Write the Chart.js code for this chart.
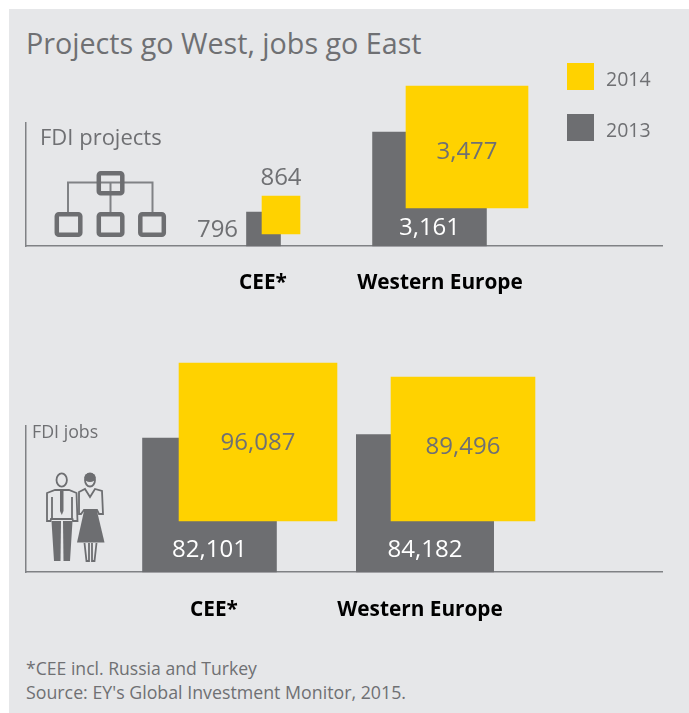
<!DOCTYPE html>
<html><head><meta charset="utf-8">
<script src="https://cdn.jsdelivr.net/npm/chart.js@4/dist/chart.umd.min.js"></script>
<style>
html,body{margin:0;padding:0;background:#fff;width:689px;height:713px;overflow:hidden}
#panel{position:absolute;left:9px;top:9px;width:680px;height:704px;background:#e6e7e9}
canvas{position:absolute;left:0}
.t{position:absolute;color:#6f7073;font-family:"Open Sans",sans-serif;white-space:nowrap}
</style></head><body>
<div id="panel"></div>
<div class="t" id="title" style="left:26px;top:23px;font-size:28.7px;line-height:40px">Projects go West, jobs go East</div>
<div class="t" style="left:26px;top:657px;font-size:17.6px;line-height:22px">*CEE incl. Russia and Turkey</div>
<div class="t" style="left:26px;top:681px;font-size:17.8px;line-height:22px">Source: EY's Global Investment Monitor, 2015.</div>
<div id="a" style="position:absolute;left:0;top:0;width:689px;height:320px"><canvas id="c1" width="689" height="320"></canvas></div>
<div id="b" style="position:absolute;left:0;top:320px;width:689px;height:393px"><canvas id="c2" width="689" height="393"></canvas></div>
<script>
// ---- data ----
const categories = ['CEE*', 'Western Europe'];
const seriesNames = ['2014', '2013'];
const projects2014 = [864, 3477];
const projects2013 = [796, 3161];
const jobs2014 = [96087, 89496];
const jobs2013 = [82101, 84182];

// ---- look ----
const YELLOW = '#ffd200', GREY = '#6d6e71', TEXT = '#6f7073', AXIS = '#808285';
const FONT = '"Open Sans", sans-serif';

// ---- layout, separate from the data (x in px from the vertical axis) ----
const topLayout = {
  top: 123, bottom: 246, canvasH: 320, offsetY: 0, tickPad: 24.5, labelX: [237, 414],
  x2013: [237.5, 403.5], x2014: [255, 441], lift: [12, 38],
  scale2013: {min: -210, unit: 29.6}, scale2014: {min: -317, unit: 31.1},
  place2013: [{dx: -46, dy: 1, color: TEXT}, {dx: 0, dy: 0, bottomOff: 17.5, color: '#fff'}],
  place2014: [{dx: 0, dy: -18, color: TEXT, from: 'top'}, {dx: 0, dy: 5.5, color: TEXT}],
  valueFont: 24
};
const bottomLayout = {
  top: 426 - 320, bottom: 572 - 320, canvasH: 393, offsetY: 320, tickPad: 25.5, labelX: [188, 394],
  x2013: [183.5, 399], x2014: [232, 437], lift: [51, 51],
  scale2013: {min: 0, unit: 613}, scale2014: {min: 21700, unit: 471},
  place2013: [{dx: 0, dy: 0, bottomOff: 21.5, color: '#fff'}, {dx: 0, dy: 0, bottomOff: 21.5, color: '#fff'}],
  place2014: [{dx: 0, dy: 1, color: TEXT}, {dx: 0, dy: -2, color: TEXT}],
  valueFont: 24
};

function fmt(v) { return v.toLocaleString('en-US'); }

function barDatasets(name, values, xs, s, lifts, places, color, axis) {
  return values.map((v, i) => {
    const side = (v - s.min) / s.unit;
    const liftUnits = lifts ? lifts[i] * s.unit : 0;
    return {
      label: name, value: v, place: places[i], yAxisID: axis, backgroundColor: color,
      grouped: false, clip: false, barThickness: side, borderWidth: 0,
      data: [{x: xs[i], y: [s.min + liftUnits, v + liftUnits]}]
    };
  });
}

const valueLabels = {
  id: 'valueLabels',
  afterDatasetsDraw(chart, args, opts) {
    const ctx = chart.ctx;
    ctx.save();
    ctx.textAlign = 'center'; ctx.textBaseline = 'middle';
    ctx.font = opts.size + 'px ' + FONT;
    chart.data.datasets.forEach((ds, i) => {
      const el = chart.getDatasetMeta(i).data[0];
      const p = ds.place;
      let y = (el.y + el.base) / 2 + p.dy;
      if (p.bottomOff !== undefined) y = el.base - p.bottomOff;
      if (p.from === 'top') y = el.y + p.dy;
      ctx.fillStyle = p.color;
      ctx.fillText(fmt(ds.value), el.x + p.dx, y);
    });
    ctx.restore();
  }
};

function rr(ctx, x, y, w, h, r) { ctx.beginPath(); ctx.roundRect(x, y, w, h, r); ctx.stroke(); }

const projectsDecor = {
  id: 'projectsDecor',
  afterDraw(chart) {
    const ctx = chart.ctx;
    ctx.save();
    // legend, from the series names
    ctx.font = '19.5px ' + FONT; ctx.textBaseline = 'middle'; ctx.textAlign = 'left';
    [[YELLOW, 63], [GREY, 114]].forEach((e, i) => {
      ctx.fillStyle = e[0]; ctx.fillRect(567, e[1], 27, 27);
      ctx.fillStyle = TEXT; ctx.fillText(seriesNames[i], 606, e[1] + 17);
    });
    ctx.font = '22px ' + FONT; ctx.fillStyle = TEXT;
    ctx.fillText('FDI projects', 40, 139);
    // org-chart icon
    ctx.strokeStyle = AXIS; ctx.lineWidth = 2;
    ctx.beginPath();
    ctx.moveTo(68, 212); ctx.lineTo(68, 182.5); ctx.lineTo(152.5, 182.5); ctx.lineTo(152.5, 212);
    ctx.moveTo(110.5, 183); ctx.lineTo(110.5, 212);
    ctx.stroke();
    ctx.strokeStyle = GREY; ctx.lineWidth = 4.5;
    rr(ctx, 98.8, 173.2, 23.5, 20, 2);
    rr(ctx, 56.8, 214.2, 23.5, 20.5, 2);
    rr(ctx, 98.8, 214.2, 23.5, 20.5, 2);
    rr(ctx, 140.3, 214.2, 23.5, 20.5, 2);
    ctx.restore();
  }
};

const jobsDecor = {
  id: 'jobsDecor',
  afterDraw(chart) {
    const ctx = chart.ctx;
    ctx.save();
    ctx.translate(0, -320);
    ctx.font = '17.8px ' + FONT; ctx.fillStyle = TEXT;
    ctx.textBaseline = 'middle'; ctx.textAlign = 'left';
    ctx.fillText('FDI jobs', 32, 433);
    ctx.strokeStyle = GREY; ctx.fillStyle = GREY; ctx.lineWidth = 1.8;
    // man
    ctx.beginPath(); ctx.ellipse(61.7, 480, 5.2, 6.6, 0, 0, 7); ctx.stroke();
    ctx.beginPath();
    ctx.moveTo(55, 490); ctx.lineTo(69, 490); ctx.lineTo(76.5, 493); ctx.lineTo(77.5, 521); ctx.lineTo(73, 521);
    ctx.lineTo(72.5, 519); ctx.lineTo(51, 519); ctx.lineTo(50.5, 521); ctx.lineTo(47, 521); ctx.lineTo(47, 493); ctx.closePath();
    ctx.stroke();
    ctx.beginPath(); ctx.moveTo(52, 497); ctx.lineTo(52, 519); ctx.moveTo(72, 497); ctx.lineTo(72, 519); ctx.stroke();
    ctx.beginPath();
    ctx.moveTo(60, 490); ctx.lineTo(63.5, 490); ctx.lineTo(63.5, 511); ctx.lineTo(61.8, 515); ctx.lineTo(60, 511); ctx.closePath(); ctx.fill();
    ctx.beginPath();
    ctx.moveTo(51.5, 521); ctx.lineTo(61, 521); ctx.lineTo(60.5, 561); ctx.lineTo(54, 561); ctx.closePath(); ctx.fill();
    ctx.beginPath();
    ctx.moveTo(63, 521); ctx.lineTo(72.5, 521); ctx.lineTo(70, 561); ctx.lineTo(63.5, 561); ctx.closePath(); ctx.fill();
    // woman
    ctx.beginPath(); ctx.ellipse(90, 480, 5, 6.5, 0, 0, 7); ctx.stroke();
    ctx.beginPath(); ctx.ellipse(90, 477.5, 5.6, 4.6, 0, 0, 7); ctx.fill();
    ctx.beginPath();
    ctx.moveTo(85, 489); ctx.lineTo(90, 497); ctx.lineTo(95, 489); ctx.lineTo(102, 491); ctx.lineTo(103, 514); ctx.lineTo(99, 514);
    ctx.lineTo(97, 510); ctx.lineTo(84, 510); ctx.lineTo(81, 514); ctx.lineTo(79, 514); ctx.lineTo(79, 492); ctx.closePath();
    ctx.stroke();
    ctx.beginPath();
    ctx.moveTo(84, 511); ctx.lineTo(97, 511); ctx.lineTo(104.5, 542.5); ctx.lineTo(77, 542.5); ctx.closePath(); ctx.fill();
    ctx.beginPath();
    ctx.moveTo(84.5, 543); ctx.lineTo(86.5, 561); ctx.lineTo(89, 561); ctx.lineTo(89, 543);
    ctx.moveTo(92, 543); ctx.lineTo(92, 561); ctx.lineTo(94.5, 561); ctx.lineTo(96.5, 543);
    ctx.stroke();
    ctx.restore();
  }
};

function makeChart(id, L, v2014, v2013, decor) {
  const h = L.bottom - L.top;
  const datasets = [
    ...barDatasets(seriesNames[0], v2014, L.x2014, L.scale2014, L.lift, L.place2014, YELLOW, 'y2'),
    ...barDatasets(seriesNames[1], v2013, L.x2013, L.scale2013, null, L.place2013, GREY, 'y')
  ];
  const xAxisH = 50;
  return new Chart(document.getElementById(id), {
    type: 'bar',
    data: {datasets},
    plugins: [valueLabels, decor],
    options: {
      responsive: false, animation: false,
      layout: {padding: {left: 26, right: 27, top: L.top, bottom: L.canvasH - L.bottom - xAxisH}},
      plugins: {legend: {display: false}, tooltip: {enabled: false}, title: {display: false},
        valueLabels: {size: L.valueFont}},
      scales: {
        x: {
          type: 'linear', min: 0, max: 636, offset: false,
          grid: {display: false, drawTicks: false},
          border: {display: true, color: AXIS, width: 1.5},
          afterBuildTicks: s => { s.ticks = L.labelX.map(v => ({value: v})); },
          afterFit: s => { s.height = xAxisH; },
          ticks: {
            autoSkip: false, maxRotation: 0, padding: L.tickPad, color: '#000',
            font: {family: FONT, size: 20.8, weight: 'bold'},
            callback: v => categories[L.labelX.indexOf(v)]
          }
        },
        y: {
          min: L.scale2013.min, max: L.scale2013.min + h * L.scale2013.unit,
          grid: {display: false, drawTicks: false},
          border: {display: true, color: AXIS, width: 1.5},
          ticks: {display: false},
          afterFit: s => { s.width = 0; }
        },
        y2: {
          display: false,
          min: L.scale2014.min, max: L.scale2014.min + h * L.scale2014.unit
        }
      }
    }
  });
}

function draw() {
  makeChart('c1', topLayout, projects2014, projects2013, projectsDecor);
  makeChart('c2', bottomLayout, jobs2014, jobs2013, jobsDecor);
}
draw();
</script>
</body></html>
